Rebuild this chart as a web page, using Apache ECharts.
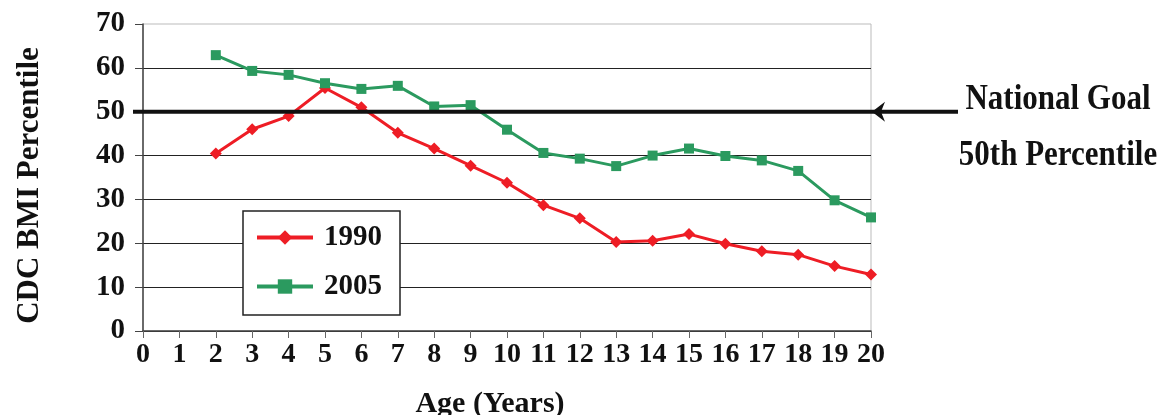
<!DOCTYPE html>
<html><head><meta charset="utf-8">
<script src="https://cdn.jsdelivr.net/npm/echarts@6/dist/echarts.min.js"></script>
<style>html,body{margin:0;padding:0;background:#fff}#c{width:1165px;height:415px}</style>
</head><body><div id="c"></div>
<script>
const ages = [2,3,4,5,6,7,8,9,10,11,12,13,14,15,16,17,18,19,20];
const bmi1990 = [40.5,46.0,49.0,55.4,51.0,45.2,41.6,37.7,33.8,28.7,25.7,20.3,20.6,22.1,19.9,18.2,17.4,14.8,12.9];
const bmi2005 = [62.9,59.3,58.4,56.5,55.2,55.9,51.2,51.5,45.9,40.6,39.3,37.6,40.0,41.6,39.9,38.9,36.5,29.8,25.9];
const seriesNames = ['1990','2005'];
const goalValue = 50;
const goalLabel = ['National Goal','50th Percentile'];
const xTitle = 'Age (Years)';
const yTitle = 'CDC BMI Percentile';

const FONT = '"Liberation Serif","Times New Roman",serif';
const chart = echarts.init(document.getElementById('c'));
const txt = {fontFamily: FONT, fontWeight: 'bold', color: '#111'};

chart.setOption({
  animation: false,
  grid: {left: 143, right: 294, top: 24, bottom: 84, containLabel: false, outerBoundsMode: 'none',
         show: true, borderColor: '#bbb', borderWidth: 1, backgroundColor: 'transparent'},
  legend: {
    left: 243, top: 211, orient: 'vertical',
    padding: [12, 18, 14, 12], itemGap: 20, itemWidth: 56, itemHeight: 18,
    borderColor: '#222', borderWidth: 1.5, backgroundColor: '#fff',
    lineStyle: {width: 4},
    textStyle: Object.assign({fontSize: 29, padding: [0, 0, 0, 6]}, txt),
    data: seriesNames
  },
  xAxis: {
    type: 'value', min: 0, max: 20, interval: 1,
    name: xTitle, nameLocation: 'middle', nameGap: 58,
    nameTextStyle: Object.assign({fontSize: 30, padding: [0, 34, 0, 0]}, txt),
    axisLine: {lineStyle: {color: '#444', width: 1.5}},
    axisTick: {show: true, length: 7, lineStyle: {color: '#666'}},
    axisLabel: Object.assign({fontSize: 28, margin: 10}, txt),
    splitLine: {show: false}
  },
  yAxis: {
    type: 'value', min: 0, max: 70, interval: 10,
    name: yTitle, nameLocation: 'middle', nameGap: 98,
    nameTextStyle: Object.assign({fontSize: 31, padding: [0, 0, 0, -16]}, txt),
    axisLine: {show: true, lineStyle: {color: '#444', width: 1.5}},
    axisTick: {show: true, length: 8, lineStyle: {color: '#444'}},
    axisLabel: Object.assign({fontSize: 29, margin: 18}, txt),
    splitLine: {show: true, showMaxLine: false, lineStyle: {color: '#222', width: 1}}
  },
  series: [
    {name: seriesNames[0], type: 'line', data: ages.map((a, i) => [a, bmi1990[i]]),
     symbol: 'diamond', symbolSize: 12, color: '#ee1d25',
     lineStyle: {width: 3, color: '#ee1d25'}, itemStyle: {color: '#ee1d25'}, z: 3},
    {name: seriesNames[1], type: 'line', data: ages.map((a, i) => [a, bmi2005[i]]),
     symbol: 'rect', symbolSize: 10, color: '#2b9a5f',
     lineStyle: {width: 3, color: '#2b9a5f'}, itemStyle: {color: '#2b9a5f'}, z: 3}
  ]
});

const p0 = chart.convertToPixel({gridIndex: 0}, [0, goalValue]);
const p1 = chart.convertToPixel({gridIndex: 0}, [20, goalValue]);
const gy = p0[1];
const tipX = p1[0] + 1;
const textX = p1[0] + 187;
chart.setOption({
  graphic: [
    {type: 'line', z: 50, shape: {x1: p0[0] - 10, y1: gy, x2: tipX + 86, y2: gy},
     style: {stroke: '#111', lineWidth: 4}},
    {type: 'polygon', z: 51, shape: {points: [[tipX, gy], [tipX + 13, gy - 10], [tipX + 9, gy], [tipX + 13, gy + 10]]},
     style: {fill: '#111'}},
    {type: 'text', z: 50, x: textX, y: gy - 12, scaleY: 1.15,
     style: {text: goalLabel[0], font: 'bold 31px ' + FONT, fill: '#111', align: 'center', verticalAlign: 'middle'}},
    {type: 'text', z: 50, x: textX, y: gy + 44, scaleY: 1.15,
     style: {text: goalLabel[1], font: 'bold 31px ' + FONT, fill: '#111', align: 'center', verticalAlign: 'middle'}}
  ]
});
</script></body></html>
